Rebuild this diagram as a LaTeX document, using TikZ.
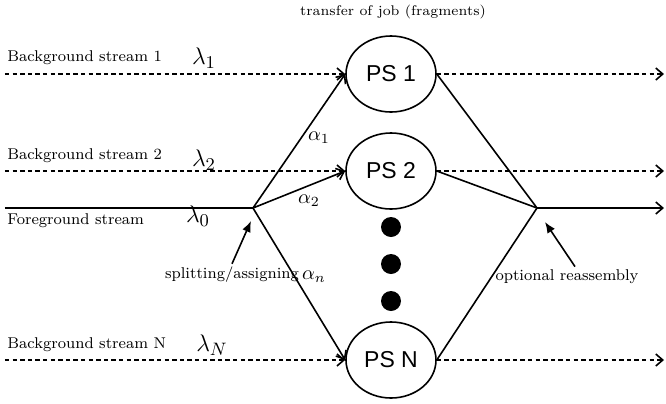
\documentclass[tikz,border=0pt]{standalone}
\usepackage{fontspec}
\newfontfamily\psfont{Liberation Sans}
\usetikzlibrary{arrows.meta,shapes.geometric}

\begin{document}
\begin{tikzpicture}[x=0.5pt,y=-0.5pt,
    server/.style={draw,ellipse,line width=0.8pt,minimum width=45pt,minimum height=38pt,
      inner sep=0pt,font=\psfont\fontsize{11.5}{13}\selectfont},
    bgflow/.style={line width=0.8pt,dash pattern=on 2.2pt off 1.6pt,-{Straight Barb[length=3.5pt,width=6pt]}},
    fgflow/.style={line width=0.8pt,-{Straight Barb[length=3.5pt,width=6pt]}},
    branch/.style={line width=0.8pt},
    pointer/.style={line width=0.8pt,-{Latex[length=5.5pt,width=4.5pt]}},
    lbl/.style={font=\fontsize{7.8}{9}\selectfont,inner sep=0pt},
    rate/.style={font=\fontsize{12.5}{14}\selectfont,inner sep=0pt},
    share/.style={font=\fontsize{10}{12}\selectfont,inner sep=0pt},
    dot/.style={circle,fill,minimum size=10pt,inner sep=0pt}]
  \useasboundingbox (0,0) rectangle (666,403);

  % servers
  \node[server] (ps1) at (391,74) {PS 1};
  \node[server] (ps2) at (391,171) {PS 2};
  \node[server] (psN) at (391,360) {PS N};
  \node[dot] (dot1) at (391,227) {};
  \node[dot] (dot2) at (391,264) {};
  \node[dot] (dot3) at (391,301) {};

  % stream ends
  \coordinate (in1) at (5,74);    \coordinate (out1) at (664,74);
  \coordinate (in2) at (5,171);   \coordinate (out2) at (664,171);
  \coordinate (inN) at (5,360);   \coordinate (outN) at (664,360);
  \coordinate (fgin) at (5,208);  \coordinate (fgout) at (664,208);
  \coordinate (split) at (253,208);
  \coordinate (merge) at (537,208);

  % background streams
  \draw[bgflow] (in1) -- (ps1.west);
  \draw[bgflow] (ps1.east) -- (out1);
  \draw[bgflow] (in2) -- (ps2.west);
  \draw[bgflow] (ps2.east) -- (out2);
  \draw[bgflow] (inN) -- (psN.west);
  \draw[bgflow] (psN.east) -- (outN);

  % foreground stream
  \draw[branch] (fgin) -- (split);
  \draw[fgflow] (split) -- (ps1.west);
  \draw[fgflow] (split) -- (ps2.west);
  \draw[fgflow] (split) -- (psN.west);
  \draw[branch] (ps1.east) -- (merge);
  \draw[branch] (ps2.east) -- (merge);
  \draw[branch] (psN.east) -- (merge);
  \draw[fgflow] (merge) -- (fgout);

  % labels
  \node[lbl,font=\fontsize{7}{8}\selectfont] (title) at (393,12) {transfer of job (fragments)};
  \node[lbl,anchor=west] (bg1lbl) at (7,58) {Background stream 1};
  \node[lbl,anchor=west] (bg2lbl) at (7,156) {Background stream 2};
  \node[lbl,anchor=west] (fglbl) at (7,221) {Foreground stream};
  \node[lbl,anchor=west] (bgNlbl) at (7,345) {Background stream N};
  \node[rate] (lam1) at (204,58) {$\lambda_1$};
  \node[rate] (lam2) at (204,160) {$\lambda_2$};
  \node[rate] (lam0) at (198,216) {$\lambda_0$};
  \node[rate] (lamN) at (212,345) {$\lambda_N$};
  \node[share] (alp1) at (319,138) {$\alpha_1$};
  \node[share] (alp2) at (309,201) {$\alpha_2$};
  \node[share] (alpn) at (314,277) {$\alpha_n$};

  % pointers
  \node[lbl] (splitlbl) at (232,275) {splitting/assigning};
  \node[lbl] (reasmlbl) at (567,277) {optional reassembly};
  \draw[pointer] ([yshift=1.5pt]splitlbl.north) -- ([shift={(-1pt,-6.5pt)}]split);
  \draw[pointer] ([shift={(4pt,1.5pt)}]reasmlbl.north) -- ([shift={(4pt,-7pt)}]merge);
\end{tikzpicture}
\end{document}
